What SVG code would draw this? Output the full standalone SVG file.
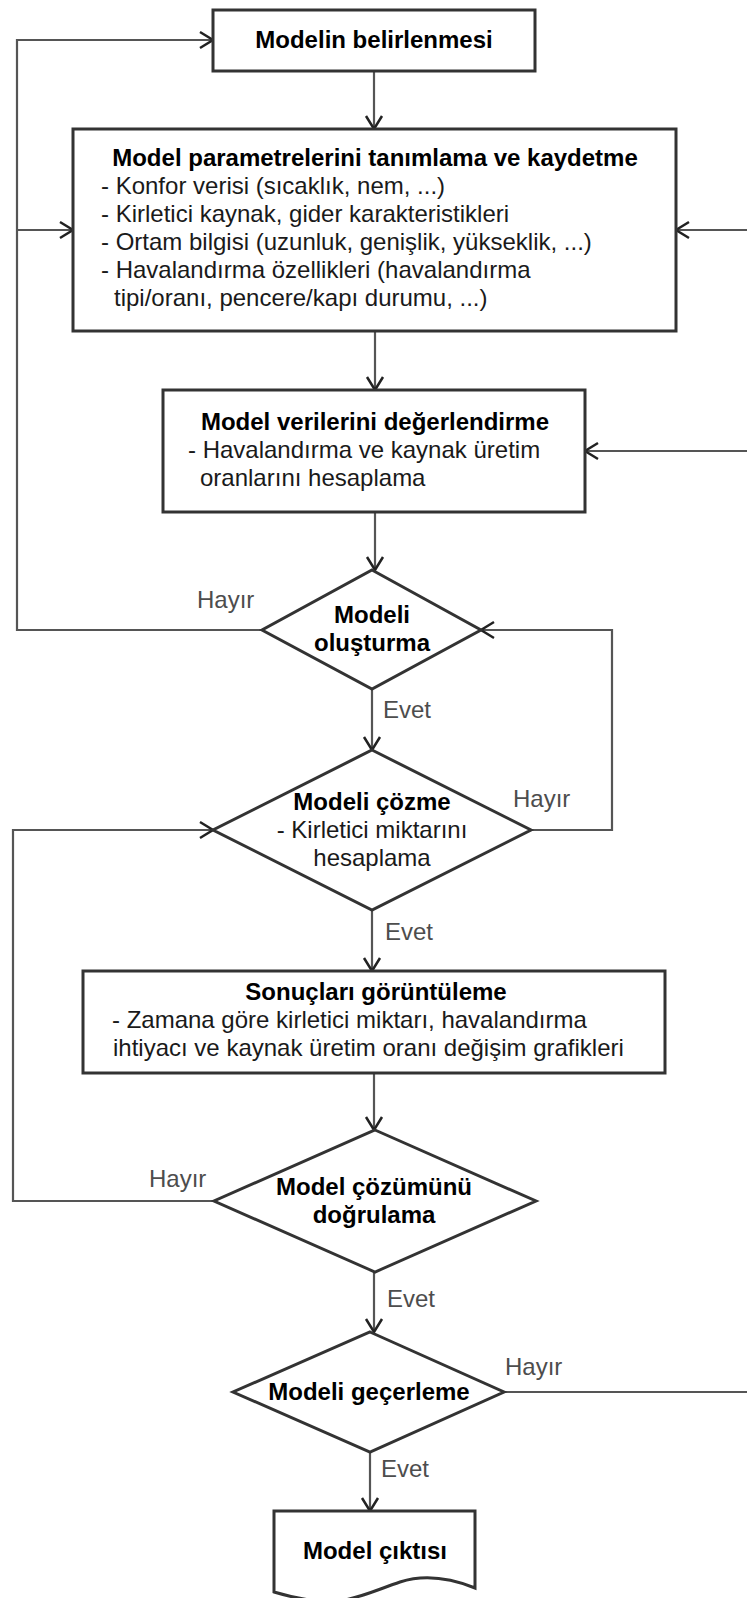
<svg xmlns="http://www.w3.org/2000/svg" width="747" height="1598" viewBox="0 0 747 1598">
<defs>
<marker id="arr" markerUnits="userSpaceOnUse" markerWidth="16" markerHeight="20" refX="14" refY="10" orient="auto">
<path d="M1,2 L14,10 L1,18" fill="none" stroke="#222" stroke-width="2.5"/>
</marker>
<style>
.box{fill:#fff;stroke:#333;stroke-width:3}
.con{fill:none;stroke:#555;stroke-width:2.2}
text{font-family:"Liberation Sans",Arial,sans-serif;font-size:24px;fill:#1a1a1a}
.t{font-weight:bold;fill:#000}
.c{text-anchor:middle}
.lbl{fill:#4d4d4d}
</style>
</defs>
<rect width="747" height="1598" fill="#fff"/>
<g id="connectors">
<path class="con" d="M374,71 V129" marker-end="url(#arr)"/>
<path class="con" d="M375,331 V390" marker-end="url(#arr)"/>
<path class="con" d="M375,512 V570" marker-end="url(#arr)"/>
<path class="con" d="M372,689 V750" marker-end="url(#arr)"/>
<path class="con" d="M372,910 V971" marker-end="url(#arr)"/>
<path class="con" d="M374,1073 V1130" marker-end="url(#arr)"/>
<path class="con" d="M374,1272 V1332" marker-end="url(#arr)"/>
<path class="con" d="M370,1452 V1511" marker-end="url(#arr)"/>
<path class="con" d="M262,630 H17 V40 H213" marker-end="url(#arr)"/>
<path class="con" d="M17,230 H73" marker-end="url(#arr)"/>
<path class="con" d="M531,830 H612 V630 H481" marker-end="url(#arr)"/>
<path class="con" d="M214,1201 H13 V830 H213" marker-end="url(#arr)"/>
<path class="con" d="M504,1392 H752 V230 H676" marker-end="url(#arr)"/>
<path class="con" d="M752,451 H585" marker-end="url(#arr)"/>
<text class="lbl" x="197" y="608">Hayır</text>
<text class="lbl" x="383" y="718">Evet</text>
<text class="lbl" x="513" y="807">Hayır</text>
<text class="lbl" x="385" y="940">Evet</text>
<text class="lbl" x="149" y="1187">Hayır</text>
<text class="lbl" x="387" y="1307">Evet</text>
<text class="lbl" x="505" y="1375">Hayır</text>
<text class="lbl" x="381" y="1477">Evet</text>
</g>
<g id="n1">
<rect class="box" x="213" y="10" width="322" height="61"/>
<text class="t c" x="374" y="48">Modelin belirlenmesi</text>
</g>
<g id="n2">
<rect class="box" x="73" y="129" width="603" height="202"/>
<text class="t c" x="375" y="166">Model parametrelerini tanımlama ve kaydetme</text>
<text x="101" y="194">- Konfor verisi (sıcaklık, nem, ...)</text>
<text x="101" y="222">- Kirletici kaynak, gider karakteristikleri</text>
<text x="101" y="250">- Ortam bilgisi (uzunluk, genişlik, yükseklik, ...)</text>
<text x="101" y="278">- Havalandırma özellikleri (havalandırma</text>
<text x="114" y="306">tipi/oranı, pencere/kapı durumu, ...)</text>
</g>
<g id="n3">
<rect class="box" x="163" y="390" width="422" height="122"/>
<text class="t c" x="375" y="430">Model verilerini değerlendirme</text>
<text x="188" y="458">- Havalandırma ve kaynak üretim</text>
<text x="200" y="486">oranlarını hesaplama</text>
</g>
<g id="n4">
<polygon class="box" points="372,570 481,630 372,689 262,630"/>
<text class="t c" x="372" y="623">Modeli</text>
<text class="t c" x="372" y="651">oluşturma</text>
</g>
<g id="n5">
<polygon class="box" points="372,750 531,830 372,910 213,830"/>
<text class="t c" x="372" y="810">Modeli çözme</text>
<text class="c" x="372" y="838">- Kirletici miktarını</text>
<text class="c" x="372" y="866">hesaplama</text>
</g>
<g id="n6">
<rect class="box" x="83" y="971" width="582" height="102"/>
<text class="t c" x="376" y="1000">Sonuçları görüntüleme</text>
<text x="112" y="1028">- Zamana göre kirletici miktarı, havalandırma</text>
<text x="113" y="1056">ihtiyacı ve kaynak üretim oranı değişim grafikleri</text>
</g>
<g id="n7">
<polygon class="box" points="375,1130 536,1201 375,1272 214,1201"/>
<text class="t c" x="374" y="1195">Model çözümünü</text>
<text class="t c" x="374" y="1223">doğrulama</text>
</g>
<g id="n8">
<polygon class="box" points="370,1332 504,1392 370,1452 233,1392"/>
<text class="t c" x="369" y="1400">Modeli geçerleme</text>
</g>
<g id="n9">
<path class="box" d="M274,1511 H475 V1588 C450,1578 425,1574 400,1582 C370,1592 345,1606 310,1600 C295,1598 284,1595 274,1592 Z"/>
<text class="t c" x="375" y="1559">Model çıktısı</text>
</g>
</svg>
